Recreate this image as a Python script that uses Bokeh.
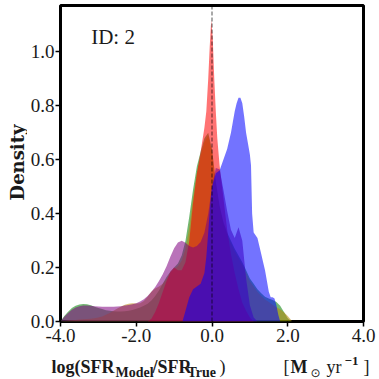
from bokeh.plotting import figure
from bokeh.models import Range1d, FixedTicker, NumeralTickFormatter, Span
from bokeh.layouts import row, column
from bokeh.core.properties import value
from bokeh.embed import file_html
from bokeh.resources import INLINE

# ---------------- data ----------------
grid_x = [-4.0, -3.9, -3.8, -3.7, -3.6, -3.5, -3.4, -3.3, -3.2, -3.1, -3.0, -2.9, -2.8, -2.7,
          -2.6, -2.5, -2.4, -2.3, -2.2, -2.1, -2.0, -1.9, -1.8, -1.7, -1.6, -1.5, -1.4, -1.3,
          -1.2, -1.1, -1.0, -0.9, -0.8, -0.7, -0.6, -0.5, -0.4, -0.3, -0.2, -0.1, 0.0, 0.1,
          0.2, 0.3, 0.4, 0.5, 0.6, 0.7, 0.8, 0.9, 1.0, 1.1, 1.2, 1.3, 1.4, 1.5, 1.6, 1.7,
          1.8, 1.9, 2.0, 2.1]

green_y = [0.000, 0.020, 0.036, 0.050, 0.058, 0.063, 0.065, 0.064, 0.060, 0.055, 0.050, 0.046,
           0.042, 0.040, 0.038, 0.037, 0.037, 0.038, 0.040, 0.043, 0.047, 0.052, 0.058, 0.066,
           0.078, 0.095, 0.115, 0.140, 0.165, 0.185, 0.200, 0.215, 0.245, 0.300, 0.390, 0.490,
           0.575, 0.630, 0.680, 0.700, 0.640, 0.520, 0.430, 0.370, 0.330, 0.300, 0.270, 0.245,
           0.220, 0.190, 0.160, 0.140, 0.120, 0.105, 0.092, 0.085, 0.080, 0.072, 0.058, 0.035,
           0.012, 0.000]

gold_y = [0.000, 0.002, 0.004, 0.005, 0.006, 0.007, 0.008, 0.009, 0.010, 0.012, 0.015, 0.019,
          0.025, 0.032, 0.040, 0.048, 0.056, 0.062, 0.066, 0.068, 0.067, 0.068, 0.076, 0.092,
          0.110, 0.122, 0.130, 0.140, 0.158, 0.180, 0.195, 0.205, 0.225, 0.270, 0.350, 0.460,
          0.550, 0.615, 0.665, 0.690, 0.630, 0.510, 0.420, 0.360, 0.320, 0.290, 0.260, 0.235,
          0.210, 0.180, 0.150, 0.130, 0.110, 0.095, 0.082, 0.072, 0.062, 0.053, 0.045, 0.034,
          0.020, 0.004]

purple_x = grid_x[:53]
purple_y = [0.000, 0.018, 0.032, 0.044, 0.052, 0.057, 0.059, 0.059, 0.058, 0.057, 0.056, 0.055,
            0.055, 0.055, 0.055, 0.056, 0.057, 0.059, 0.061, 0.064, 0.068, 0.074, 0.083, 0.095,
            0.110, 0.128, 0.150, 0.175, 0.205, 0.240, 0.272, 0.293, 0.300, 0.292, 0.280, 0.275,
            0.280, 0.295, 0.330, 0.400, 0.500, 0.570, 0.565, 0.490, 0.410, 0.340, 0.310, 0.350,
            0.300, 0.160, 0.060, 0.015, 0.000]

red_x = [-1.7, -1.6, -1.5, -1.4, -1.3, -1.2, -1.1, -1.0, -0.9, -0.8, -0.7, -0.6, -0.5, -0.4,
         -0.3, -0.2, -0.15, -0.1, -0.06, -0.02, 0.02, 0.06, 0.1, 0.14, 0.2, 0.3, 0.4, 0.5,
         0.6, 0.7, 0.8, 0.9, 1.0, 1.1]
red_y = [0.0, 0.01, 0.035, 0.07, 0.11, 0.15, 0.185, 0.2, 0.19, 0.19, 0.22, 0.3, 0.44, 0.55,
         0.63, 0.72, 0.78, 0.9, 1.02, 1.12, 1.05, 0.9, 0.78, 0.68, 0.58, 0.46, 0.34, 0.25,
         0.18, 0.12, 0.07, 0.04, 0.015, 0.0]

blue_x = [-0.78, -0.7, -0.6, -0.5, -0.4, -0.3, -0.2, -0.15, -0.1, -0.05, 0.0, 0.1, 0.2, 0.3,
          0.4, 0.5, 0.55, 0.6, 0.65, 0.7, 0.75, 0.8, 0.85, 0.9, 0.95, 1.0, 1.03, 1.06, 1.1,
          1.15, 1.2, 1.25, 1.3, 1.35, 1.4, 1.45, 1.5, 1.55, 1.6, 1.65, 1.7, 1.75, 1.8]
blue_y = [0.0, 0.04, 0.09, 0.12, 0.13, 0.14, 0.18, 0.24, 0.33, 0.43, 0.5, 0.55, 0.56, 0.6,
          0.64, 0.7, 0.74, 0.78, 0.81, 0.83, 0.83, 0.81, 0.76, 0.7, 0.66, 0.62, 0.58, 0.4,
          0.33, 0.32, 0.31, 0.28, 0.25, 0.22, 0.19, 0.15, 0.11, 0.09, 0.09, 0.085, 0.06,
          0.025, 0.0]

x_ticks = [-4, -2, 0, 2, 4]
y_ticks = [0.0, 0.2, 0.4, 0.6, 0.8, 1.0]
panel_text = "ID: 2"
y_label = "Density"

# drawing order: green, gold, red, purple, blue
series = [
    (grid_x, green_y, "#008000"),
    (grid_x, gold_y, "#b8860b"),
    (red_x, red_y, "#ff0000"),
    (purple_x, purple_y, "#800080"),
    (blue_x, blue_y, "#0000ff"),
]

TXT = "#1a1a1a"

# ---------------- main figure ----------------
p = figure(width=350, height=351, x_range=Range1d(-4, 4), y_range=Range1d(0, 1.1725),
           output_backend="svg", toolbar_location=None,
           min_border_left=30, min_border_right=14, min_border_top=5, min_border_bottom=30)
p.frame_align = False

for xs, ys, col in series:
    p.varea(x=xs, y1=0, y2=ys, fill_color=col, fill_alpha=0.55)

p.add_layout(Span(location=0, dimension="height", line_color="black", line_alpha=0.45,
                  line_dash="4 2", line_width=1.5))

p.text(x=[-3.19], y=[1.054], text=[panel_text], text_font=value("Liberation Serif"),
       text_font_size=value("21px"), text_color=TXT, text_baseline="alphabetic")

p.grid.visible = False
p.outline_line_color = "black"
p.outline_line_width = 3
p.outline_line_alpha = 1.0
p.background_fill_color = "white"
p.border_fill_color = "white"

for ax in (p.xaxis[0], p.yaxis[0]):
    ax.axis_line_color = None
    ax.major_tick_in = 0
    ax.major_tick_out = 5
    ax.major_tick_line_width = 1.5
    ax.major_tick_line_color = "black"
    ax.minor_tick_line_color = None
    ax.major_label_text_font = "Liberation Serif"
    ax.major_label_text_font_size = "19px"
    ax.major_label_text_color = TXT
    ax.formatter = NumeralTickFormatter(format="0.0")

p.xaxis.ticker = FixedTicker(ticks=x_ticks)
p.yaxis.ticker = FixedTicker(ticks=y_ticks)
p.xaxis.major_label_standoff = 2
p.yaxis.major_label_standoff = 1

# ---------------- y label strip ----------------
d = figure(width=27, height=379, x_range=Range1d(0, 27), y_range=Range1d(0, 379),
           output_backend="svg", toolbar_location=None, x_axis_type=None, y_axis_type=None,
           min_border=0)
d.frame_align = False
d.grid.visible = False
d.outline_line_color = None
d.text(x=[17], y=[217], text=[y_label], angle=1.5708, text_align="center",
       text_baseline="alphabetic", text_font=value("DejaVu Serif"),
       text_font_style="bold", text_font_size=value("18px"), text_color=TXT)

# ---------------- x label strip ----------------
q = figure(width=350, height=28, x_range=Range1d(0, 350), y_range=Range1d(0, 28),
           output_backend="svg", toolbar_location=None, x_axis_type=None, y_axis_type=None,
           min_border=0)
q.frame_align = False
q.grid.visible = False
q.outline_line_color = None

xl_parts = [
    ("log(SFR", 24, 13, "18px", "bold", "Liberation Serif"),
    ("Model", 88, 7, "14px", "bold", "Liberation Serif"),
    ("/SFR", 125, 13, "18px", "bold", "Liberation Serif"),
    ("True", 160, 7, "14px", "bold", "Liberation Serif"),
    (")", 192, 13, "18px", "normal", "Liberation Serif"),
    ("[", 256, 13, "18px", "normal", "Liberation Serif"),
    ("M", 263, 13, "18px", "bold", "Liberation Serif"),
    ("\u2299", 283, 7, "12px", "normal", "DejaVu Sans"),
    ("yr", 299, 13, "18px", "normal", "Liberation Serif"),
    ("\u22121", 317, 19, "13px", "bold", "Liberation Serif"),
    ("]", 336, 13, "18px", "normal", "Liberation Serif"),
]
for t, lx, ly, fs, st, fnt in xl_parts:
    q.text(x=[lx], y=[ly], text=[t], text_font=value(fnt), text_font_size=value(fs),
           text_font_style=st, text_color=TXT, text_baseline="alphabetic")

layout = row(d, column(p, q, spacing=0), spacing=0)
open("out.html", "w").write(file_html(layout, INLINE))
